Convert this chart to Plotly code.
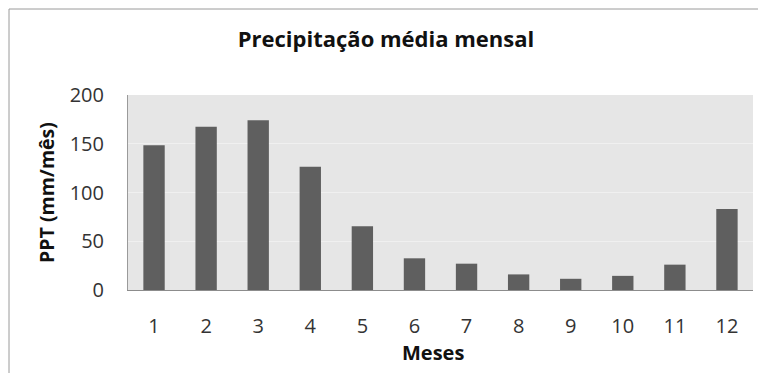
import plotly.graph_objects as go

months = ["1", "2", "3", "4", "5", "6", "7", "8", "9", "10", "11", "12"]
ppt = [148.5, 167.5, 174, 126.5, 65.5, 32.5, 27, 16, 11.5, 14.5, 26, 83]
y_ticks = [0, 50, 100, 150, 200]

W, H = 758, 373
L, R, T, B = 128, 5, 95, 83
pw, ph = W - L - R, H - T - B

def px(x):
    return (x - L) / pw

def py(y):
    return (H - B - y) / ph

font_family = "Open Sans, Lato, sans-serif"

fig = go.Figure()
fig.add_trace(go.Bar(
    x=months, y=ppt,
    marker=dict(color="#5f5f5f", line=dict(width=0)),
    hoverinfo="skip",
))

fig.update_layout(
    width=W, height=H,
    margin=dict(l=L, r=R, t=T, b=B),
    paper_bgcolor="white",
    plot_bgcolor="#e6e6e6",
    bargap=0.59,
    showlegend=False,
    font=dict(family=font_family, color="#222222"),
    title=dict(
        text="<b>Precipitação média mensal</b>",
        xref="container", x=386 / W, xanchor="center",
        yref="container", y=1 - 39 / H, yanchor="middle",
        font=dict(size=22, color="#111111", family=font_family),
    ),
    xaxis=dict(
        type="category",
        showgrid=False,
        showline=True, linecolor="#8c8c8c", linewidth=1,
        ticks="", ticklabelstandoff=18,
        tickfont=dict(size=20, color="#333333"),
        fixedrange=True,
    ),
    yaxis=dict(
        range=[0, 200],
        tickvals=y_ticks,
        showgrid=True, gridcolor="#f0f0f0", gridwidth=1,
        zeroline=False,
        showline=True, linecolor="#9a9a9a", linewidth=1,
        ticks="", ticklabelstandoff=19,
        tickfont=dict(size=20, color="#333333"),
        title=dict(text="<b>PPT (mm/mês)</b>", standoff=9,
                   font=dict(size=19.5, color="#111111")),
        fixedrange=True,
    ),
    annotations=[dict(
        text="<b>Meses</b>", xref="paper", yref="paper",
        x=px(433), y=py(352), xanchor="center", yanchor="middle",
        showarrow=False, font=dict(size=20, color="#111111"),
    )],
    shapes=[dict(
        type="rect", xref="paper", yref="paper",
        x0=px(9), x1=px(775), y0=py(390), y1=py(9),
        line=dict(color="#9a9a9a", width=1), fillcolor="rgba(0,0,0,0)",
        layer="below",
    )],
)

fig.write_html("out.html", config=dict(displayModeBar=False))
